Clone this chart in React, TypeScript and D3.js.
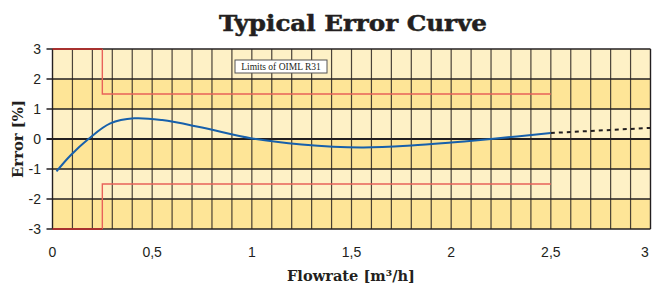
import React from "react";
import * as d3 from "d3";

// measured error curve (flowrate m3/h, error %)
const flow = [0.02, 0.09, 0.18, 0.29, 0.41, 0.55, 0.75, 1.0, 1.25, 1.55, 1.8, 2.0, 2.2, 2.5];
const errorPct = [-1.08, -0.55, 0.0, 0.52, 0.69, 0.63, 0.38, 0.02, -0.18, -0.28, -0.22, -0.12, 0.0, 0.2];

// extrapolated part (dashed)
const extFlow = [2.5, 3.0];
const extError = [0.2, 0.37];

// OIML R31 limits
const limitFlow = [0, 0.25, 0.25, 2.5];
const limitUpper = [3, 3, 1.5, 1.5];
const limitLower = [-3, -3, -1.5, -1.5];

const xTicks = [0, 0.5, 1, 1.5, 2, 2.5, 3];
const yTicks = [-3, -2, -1, 0, 1, 2, 3];

const W = 652;
const H = 285;

const App: React.FC = () => {
  const x = d3.scaleLinear().domain([0, 3]).range([52.5, 650.5]);
  const y = d3.scaleLinear().domain([-3, 3]).range([229, 49]);

  const line = d3
    .line<[number, number]>()
    .x((d) => x(d[0]))
    .y((d) => y(d[1]));
  const curve = d3
    .line<[number, number]>()
    .x((d) => x(d[0]))
    .y((d) => y(d[1]))
    .curve(d3.curveCatmullRom.alpha(0.5));

  const pts = flow.map((f, i) => [f, errorPct[i]] as [number, number]);
  const ext = extFlow.map((f, i) => [f, extError[i]] as [number, number]);
  const upper = limitFlow.map((f, i) => [f, limitUpper[i]] as [number, number]);
  const lower = limitFlow.map((f, i) => [f, limitLower[i]] as [number, number]);

  const bands = d3.range(-3, 3);
  const vLines = d3.range(1, 30).map((i) => i / 10);
  const fmt = (v: number) => String(v).replace(".", ",");

  return (
    <svg width={W} height={H} style={{ position: "absolute", left: 0, top: 0 }}>
      <text
        x={353}
        y={31}
        textAnchor="middle"
        fontFamily="DejaVu Serif"
        fontWeight="bold"
        fontSize={22}
        fill="#231f20"
        stroke="#231f20"
        strokeWidth={0.5}
        textLength={268}
        lengthAdjust="spacingAndGlyphs"
      >
        Typical Error Curve
      </text>

      {bands.map((b) => (
        <rect
          key={b}
          x={x(0)}
          y={y(b + 1)}
          width={x(3) - x(0)}
          height={y(b) - y(b + 1)}
          fill={Math.abs(b) % 2 === 1 ? "#fee597" : "#fef1c6"}
        />
      ))}

      {vLines.map((v) => (
        <line
          key={v}
          x1={x(v)}
          x2={x(v)}
          y1={y(3)}
          y2={y(-3)}
          stroke="#2a2520"
          strokeOpacity={0.85}
          strokeWidth={1.2}
        />
      ))}
      {yTicks.map((t) => (
        <line
          key={t}
          x1={x(0) - 6}
          x2={x(3)}
          y1={y(t)}
          y2={y(t)}
          stroke="#231f20"
          strokeWidth={t === 0 ? 2.2 : 1.4}
        />
      ))}
      <line x1={x(0)} x2={x(0)} y1={y(3)} y2={y(-3)} stroke="#231f20" strokeWidth={1.4} />
      <line x1={x(3)} x2={x(3)} y1={y(3)} y2={y(-3)} stroke="#231f20" strokeWidth={1.4} />

      <path d={line(upper.slice(1)) || ""} fill="none" stroke="#e8625a" strokeWidth={1.4} />
      <path d={line(lower.slice(1)) || ""} fill="none" stroke="#e8625a" strokeWidth={1.4} />
      <path d={line(upper.slice(0, 2)) || ""} fill="none" stroke="#a8312f" strokeWidth={2} />
      <path d={line(lower.slice(0, 2)) || ""} fill="none" stroke="#a8312f" strokeWidth={2} />

      <path d={curve(pts) || ""} fill="none" stroke="#1760ab" strokeWidth={2} />
      <path
        d={line(ext) || ""}
        fill="none"
        stroke="#231f20"
        strokeWidth={2}
        strokeDasharray="4,4"
      />

      <rect x={235} y={60} width={92} height={13} fill="#ffffff" stroke="#555" strokeWidth={1} />
      <text x={281} y={70} textAnchor="middle" fontFamily="Liberation Serif" fontSize={9.5} fill="#231f20">
        Limits of OIML R31
      </text>

      {yTicks.map((t) => (
        <text
          key={t}
          x={41}
          y={y(t) + 5}
          textAnchor="end"
          fontFamily="Liberation Sans"
          fontSize={14}
          fill="#231f20"
        >
          {t}
        </text>
      ))}
      {xTicks.map((t) => (
        <text
          key={t}
          x={Math.min(x(t), 645)}
          y={257}
          textAnchor="middle"
          fontFamily="Liberation Sans"
          fontSize={14}
          fill="#231f20"
        >
          {fmt(t)}
        </text>
      ))}

      <text
        x={351}
        y={281}
        textAnchor="middle"
        fontFamily="DejaVu Serif"
        fontWeight="bold"
        fontSize={14}
        fill="#231f20"
        textLength={128}
        lengthAdjust="spacingAndGlyphs"
      >
        Flowrate [m³/h]
      </text>
      <text
        transform={`translate(23,139) rotate(-90)`}
        textAnchor="middle"
        fontFamily="DejaVu Serif"
        fontWeight="bold"
        fontSize={14}
        fill="#231f20"
        textLength={78}
        lengthAdjust="spacingAndGlyphs"
      >
        Error [%]
      </text>
    </svg>
  );
};

export default App;
